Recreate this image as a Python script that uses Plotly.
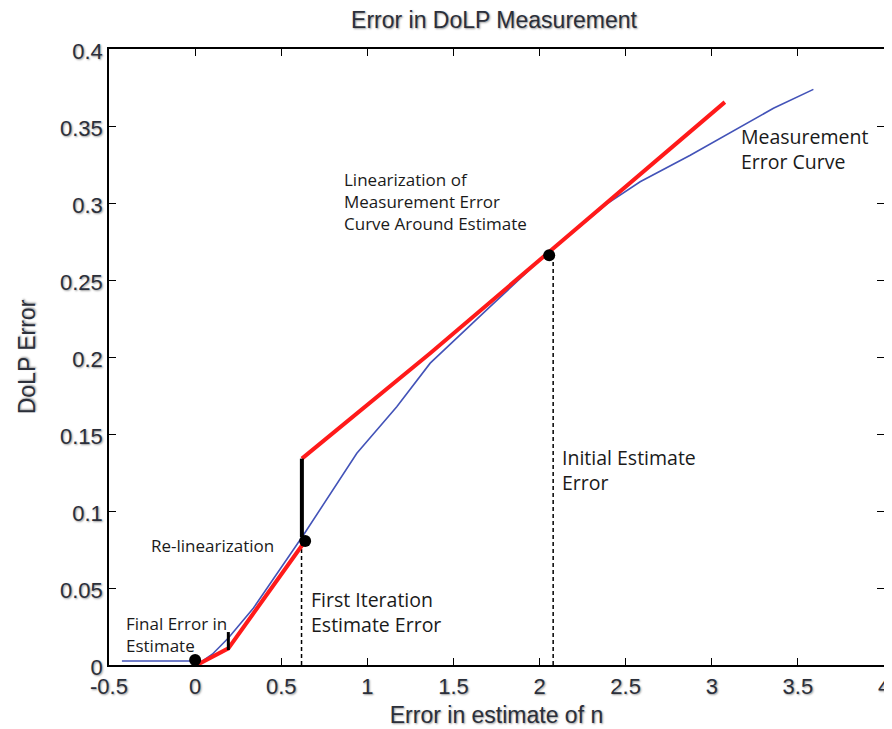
import plotly.graph_objects as go

# Measurement error curve (blue)
meas_x = [-0.425, -0.03, 0.01, 0.10, 0.193, 0.339, 0.629, 0.939, 1.171, 1.365,
          1.713, 2.003, 2.391, 2.584, 2.875, 3.165, 3.358, 3.59]
meas_y = [0.0026, 0.0026, 0.0, 0.007, 0.0175, 0.037, 0.0844, 0.1375, 0.1677, 0.196,
          0.2327, 0.263, 0.2994, 0.3138, 0.331, 0.3495, 0.3615, 0.3738]

# Linearization (red): re-linearization segment and initial tangent
relin_x = [0.01, 0.193, 0.639]
relin_y = [0.0, 0.0108, 0.0805]
lin_x = [0.62, 1.365, 3.076]
lin_y = [0.134, 0.2024, 0.3655]

# Markers (estimates)
dot_x = [0.0, 0.639, 2.056]
dot_y = [0.0032, 0.0805, 0.266]

# Vertical black segments
small_bar_x = [0.193, 0.193]
small_bar_y = [0.0097, 0.0214]
big_bar_x = [0.62, 0.62]
big_bar_y = [0.083, 0.134]

# Dashed drop lines
drop1_x = [0.618, 0.618]
drop1_y = [0.0, 0.080]
drop2_x = [2.079, 2.079]
drop2_y = [0.0, 0.265]

x_ticks = [-0.5, 0, 0.5, 1, 1.5, 2, 2.5, 3, 3.5, 4]
x_ticktext = ["-0.5", "0", "0.5", "1", "1.5", "2", "2.5", "3", "3.5", "4"]
y_ticks = [0, 0.05, 0.1, 0.15, 0.2, 0.25, 0.3, 0.35, 0.4]
y_ticktext = ["0", "0.05", "0.1", "0.15", "0.2", "0.25", "0.3", "0.35", "0.4"]

fig = go.Figure()

dash_style = dict(color="black", width=1.5, dash="4px,3px")
fig.add_trace(go.Scatter(x=drop1_x, y=drop1_y, mode="lines", line=dash_style))
fig.add_trace(go.Scatter(x=drop2_x, y=drop2_y, mode="lines", line=dash_style))
fig.add_trace(go.Scatter(x=meas_x, y=meas_y, mode="lines",
                         line=dict(color="#4353b8", width=1.6)))
fig.add_trace(go.Scatter(x=relin_x, y=relin_y, mode="lines",
                         line=dict(color="#ff1a1a", width=4)))
fig.add_trace(go.Scatter(x=lin_x, y=lin_y, mode="lines",
                         line=dict(color="#ff1a1a", width=4)))
fig.add_trace(go.Scatter(x=small_bar_x, y=small_bar_y, mode="lines",
                         line=dict(color="black", width=3)))
fig.add_trace(go.Scatter(x=big_bar_x, y=big_bar_y, mode="lines",
                         line=dict(color="black", width=4)))
fig.add_trace(go.Scatter(x=dot_x, y=dot_y, mode="markers",
                         marker=dict(color="black", size=12)))

ann_font = dict(family="Open Sans, Noto Sans, sans-serif", color="#1a1a1a")
annotations = [
    dict(x=3.16, y=0.335, text="Measurement<br>Error Curve", size=19.5),
    dict(x=0.85, y=0.301, text="Linearization of<br>Measurement Error<br>Curve Around Estimate", size=17),
    dict(x=2.12, y=0.1266, text="Initial Estimate<br>Error", size=19.5),
    dict(x=0.66, y=0.0345, text="First Iteration<br>Estimate Error", size=19.5),
    dict(x=-0.27, y=0.0775, text="Re-linearization", size=17),
    dict(x=-0.415, y=0.0198, text="Final Error in<br>Estimate", size=17),
]
for a in annotations:
    fig.add_annotation(x=a["x"], y=a["y"], text=a["text"], showarrow=False,
                       xanchor="left", yanchor="middle", align="left",
                       font=dict(size=a["size"], **ann_font))

label_font = dict(family="Liberation Sans, Arial, sans-serif",
                  color="#2b2f3a", shadow="1px 1px 2px #999")

# The page body has an 8px default margin; size the figure to fit the window.
fig.update_layout(
    width=884, height=721,
    margin=dict(l=101, r=8, t=41, b=64),
    paper_bgcolor="white", plot_bgcolor="white",
    showlegend=False,
    title=dict(text="Error in DoLP Measurement", x=0.5498, xanchor="center",
               y=0.983, yanchor="middle",
               font=dict(size=23, **label_font)),
    xaxis=dict(range=[-0.5, 4], tickvals=x_ticks, ticktext=x_ticktext,
               showgrid=False, zeroline=False, showline=True, linecolor="black",
               linewidth=1.5, mirror="ticks", ticks="inside", ticklen=7,
               tickcolor="black", tickwidth=1.3, automargin=False,
               ticklabelstandoff=1,
               tickfont=dict(size=22, **label_font),
               title=dict(text="Error in estimate of n", font=dict(size=23, **label_font),
                          standoff=9)),
    yaxis=dict(range=[0, 0.4], tickvals=y_ticks, ticktext=y_ticktext,
               showgrid=False, zeroline=False, showline=True, linecolor="black",
               linewidth=1.5, mirror="ticks", ticks="inside", ticklen=7,
               tickcolor="black", tickwidth=1.3, automargin=False,
               ticklabelshift=2,
               tickfont=dict(size=22, **label_font),
               title=dict(text="DoLP Error", font=dict(size=23, **label_font),
                          standoff=18)),
)

fig.write_html("out.html")
